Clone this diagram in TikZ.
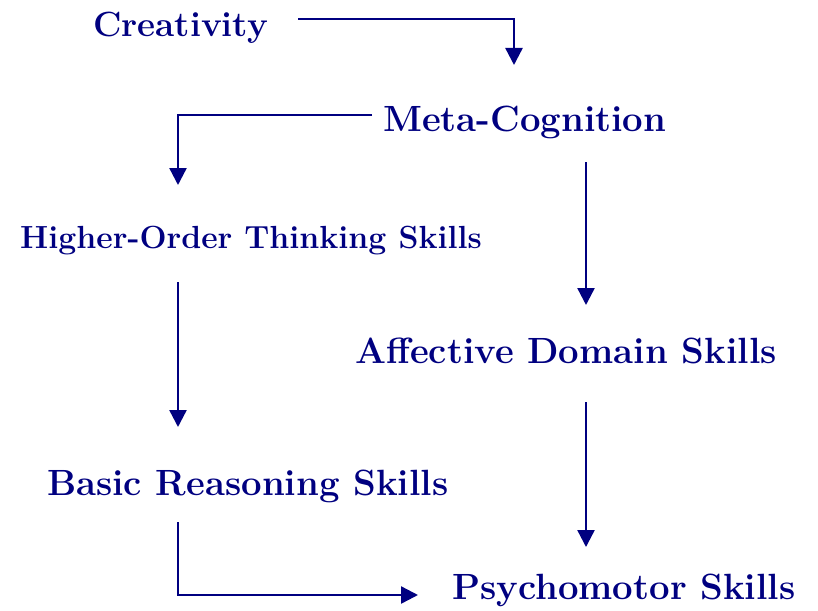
\documentclass[tikz,border=0pt]{standalone}
\usetikzlibrary{arrows.meta,calc}
\definecolor{navy}{RGB}{0,0,128}
\tikzset{
  lvl/.style={anchor=base west, inner sep=0pt, text=navy, font=\fontsize{36.5}{42}\selectfont\bfseries},
  flow/.style={draw=navy, line width=2.4pt, -{Triangle[width=17pt,length=17pt]}}
}
\begin{document}
\begin{tikzpicture}[x=1pt,y=-1pt]
    \useasboundingbox (0,0) rectangle (818,610);

    \node[lvl, font=\fontsize{35}{40}\selectfont\bfseries] (crea) at (93,37) {Creativity};
    \node[lvl] (meta) at (383,131) {Meta-Cognition};
    \node[lvl, font=\fontsize{32}{37}\selectfont\bfseries] (hots) at (20,248) {Higher-Order Thinking Skills};
    \node[lvl] (aff) at (355,363) {Affective Domain Skills};
    \node[lvl] (basic) at (47,495) {Basic Reasoning Skills};
    \node[lvl] (psy) at (452,599) {Psychomotor Skills};

    \draw[flow] ($(crea.base east)+(30,-18)$) -| ($(meta.base west)+(131,-66)$);
    \draw[flow] ($(meta.base west)+(-11,-16)$) -| ($(hots.base west)+(158,-63)$);
    \draw[flow] ($(meta.base west)+(203,31)$) -- ($(aff.base west)+(231,-58)$);
    \draw[flow] ($(hots.base west)+(158,34)$) -- ($(basic.base west)+(131,-68)$);
    \draw[flow] ($(aff.base west)+(231,39)$) -- ($(psy.base west)+(134,-52)$);
    \draw[flow] ($(basic.base west)+(131,27)$) |- ($(psy.base west)+(-34,-4)$);
  \end{tikzpicture}
\end{document}
